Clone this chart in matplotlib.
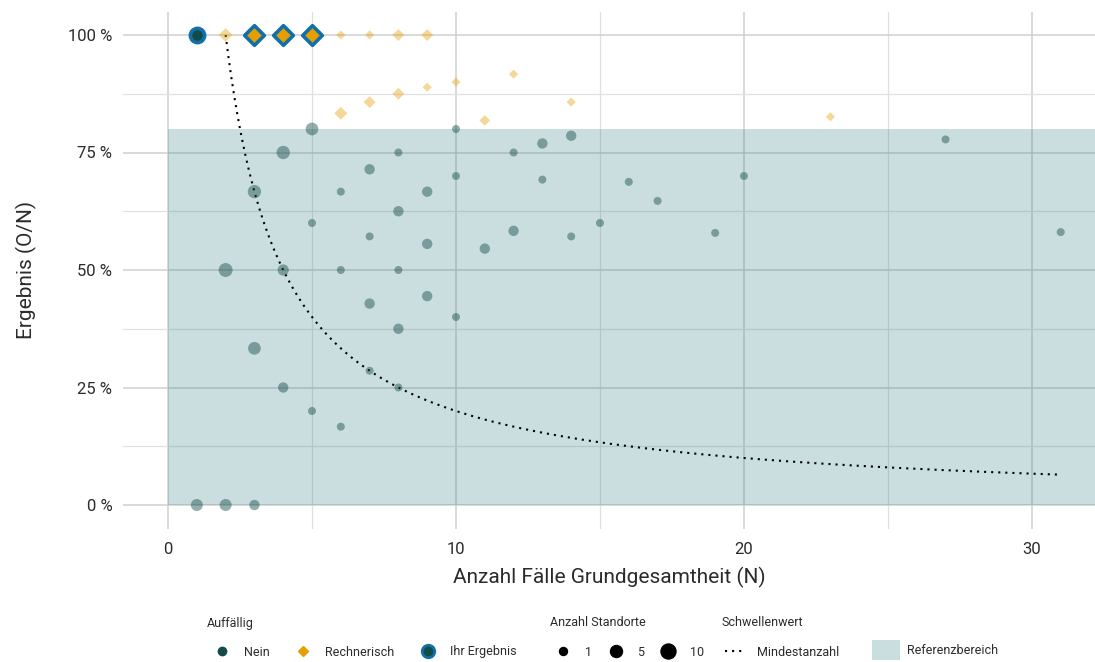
import matplotlib.pyplot as plt
from matplotlib.lines import Line2D
from matplotlib.patches import Patch
import numpy as np

plt.rcParams['font.family'] = ['Roboto', 'DejaVu Sans']

# Standorte, nicht auffaellig: Grundgesamtheit N, Ergebnis O, Anzahl Standorte
nein_n = [1, 2, 3, 2, 3, 3, 4, 4, 4, 5, 5, 5, 6, 6, 6, 7, 7, 7, 7, 8, 8, 8, 8, 8,
          9, 9, 9, 10, 10, 10, 11, 12, 12, 13, 13, 14, 14, 15, 16, 17, 19, 20, 27, 31]
nein_o = [0, 0, 0, 1, 2, 1, 3, 2, 1, 4, 3, 1, 4, 3, 1, 5, 4, 3, 2, 6, 5, 4, 3, 2,
          6, 5, 4, 8, 7, 4, 6, 9, 7, 10, 9, 11, 8, 9, 11, 11, 11, 14, 21, 18]
nein_anz = [5, 5, 3, 8, 7, 6, 7, 4, 3, 6, 1, 1, 1, 1, 1, 3, 1, 3, 1, 1, 3, 1, 3, 1,
            3, 3, 3, 1, 1, 1, 3, 1, 3, 3, 1, 3, 1, 1, 1, 1, 1, 1, 1, 1]

# rechnerisch auffaellig
rech_n = [2, 6, 7, 8, 9, 6, 7, 8, 9, 10, 11, 12, 14, 23]
rech_o = [2, 6, 7, 8, 9, 5, 6, 7, 8, 9, 9, 11, 12, 19]
rech_anz = [5, 1, 1, 3, 3, 4, 3, 3, 1, 1, 2, 1, 1, 1]

# eigenes Ergebnis
ihr_nein_n = [1]
ihr_nein_o = [1]
ihr_rech_n = [3, 4, 5]
ihr_rech_o = [3, 4, 5]

mindestanzahl = 2
n_max = 31
referenz_oben = 0.80

teal = '#124c48'
orange = '#e69f00'
blau = '#1170aa'
ref_col = '#2f7f83'
text_col = '#2b2b2b'


def groesse(anz, faktor=1.0):
    d_px = (4.76 + 3.24 * np.sqrt(np.asarray(anz, dtype=float))) * faktor
    return (d_px * 0.72) ** 2


fig = plt.figure(figsize=(10.95, 6.62), dpi=100)
ax = fig.add_axes([123.4 / 1095, (662 - 528.5) / 662, (1095 - 123.4) / 1095, 517 / 662])

ax.set_xlim(-1.55, 32.19)
ax.set_ylim(-0.05, 1.05)

ax.set_xticks([0, 10, 20, 30])
ax.set_xticks([5, 15, 25], minor=True)
ax.set_yticks([0, 0.25, 0.5, 0.75, 1.0])
ax.set_yticklabels(['0 %', '25 %', '50 %', '75 %', '100 %'])
ax.set_yticks([0.125, 0.375, 0.625, 0.875], minor=True)
ax.grid(which='major', color='#cfcfcf', linewidth=1.1)
ax.grid(which='minor', color='#e0e0e0', linewidth=0.9)
ax.set_axisbelow(True)
ax.tick_params(which='both', length=0, labelsize=12, labelcolor=text_col)
ax.tick_params(axis='y', pad=8)
ax.tick_params(axis='x', pad=10)
for s in ax.spines.values():
    s.set_visible(False)

# Referenzbereich
ax.axhspan(0, referenz_oben, xmin=(0 + 1.55) / (32.19 + 1.55), xmax=1,
           facecolor=ref_col, alpha=0.25, edgecolor='none', zorder=1)

# Mindestanzahl
kurve_n = np.linspace(mindestanzahl, n_max, 300)
ax.plot(kurve_n, mindestanzahl / kurve_n, color='black', linewidth=1.5,
        dashes=(1, 2.4), dash_capstyle='butt', zorder=3)

nein_y = np.array(nein_o) / np.array(nein_n)
rech_y = np.array(rech_o) / np.array(rech_n)
ax.scatter(nein_n, nein_y, s=groesse(nein_anz), color=teal, alpha=0.45,
           edgecolors='none', zorder=4)
ax.scatter(rech_n, rech_y, s=groesse(rech_anz, 1.15) / 2, marker='D', color=orange,
           alpha=0.4, edgecolors='none', zorder=4)

ax.scatter(ihr_nein_n, np.array(ihr_nein_o) / np.array(ihr_nein_n), s=105, color=teal,
           edgecolors=blau, linewidths=2.6, zorder=5)
ax.scatter(ihr_rech_n, np.array(ihr_rech_o) / np.array(ihr_rech_n), s=100, marker='D',
           color=orange, edgecolors=blau, linewidths=2.6, zorder=5)

ax.set_xlabel('Anzahl Fälle Grundgesamtheit (N)', fontsize=15, color=text_col, labelpad=7)
ax.set_ylabel('Ergebnis (O/N)', fontsize=15, color=text_col, labelpad=22)

# Legenden
leg_y = 10 / 662
titel_y = (662 - 623) / 662
fs = 9
kw = dict(loc='center left', frameon=False, borderpad=0, borderaxespad=0,
          fontsize=fs, labelcolor=text_col, handlelength=1.6)

fig.text(207 / 1095, titel_y, 'Auffällig', fontsize=fs, color=text_col, va='center')
h1 = [Line2D([], [], marker='o', linestyle='none', color=teal, markersize=6),
      Line2D([], [], marker='D', linestyle='none', color=orange, markersize=5),
      Line2D([], [], marker='o', linestyle='none', color=teal, markeredgecolor=blau,
             markeredgewidth=2, markersize=9)]
l1 = fig.legend(h1, ['Nein', 'Rechnerisch', 'Ihr Ergebnis'], ncol=3,
                bbox_to_anchor=(212 / 1095, leg_y), handletextpad=0.95,
                columnspacing=1.9, **kw)

fig.text(550 / 1095, titel_y, 'Anzahl Standorte', fontsize=fs, color=text_col, va='center')
h2 = [Line2D([], [], marker='o', linestyle='none', color='black',
             markersize=np.sqrt(groesse(a))) for a in [1, 5, 10]]
l2 = fig.legend(h2, ['1', '5', '10'], ncol=3,
                bbox_to_anchor=(553 / 1095, leg_y), handletextpad=0.95,
                columnspacing=1.1, **kw)

fig.text(722 / 1095, titel_y, 'Schwellenwert', fontsize=fs, color=text_col, va='center')
h3 = [Line2D([], [], color='black', linewidth=1.5, dashes=(1, 2.4), dash_capstyle='butt')]
l3 = fig.legend(h3, ['Mindestanzahl'], bbox_to_anchor=(725 / 1095, leg_y),
                handletextpad=0.95, **kw)

h4 = [Patch(facecolor=ref_col, alpha=0.25, edgecolor='none')]
kw4 = dict(kw)
kw4['handlelength'] = 2.2
l4 = fig.legend(h4, ['Referenzbereich'], bbox_to_anchor=(872 / 1095, 12 / 662),
                handletextpad=0.64, handleheight=2.2, **kw4)

fig.savefig('out.png', dpi=100)
